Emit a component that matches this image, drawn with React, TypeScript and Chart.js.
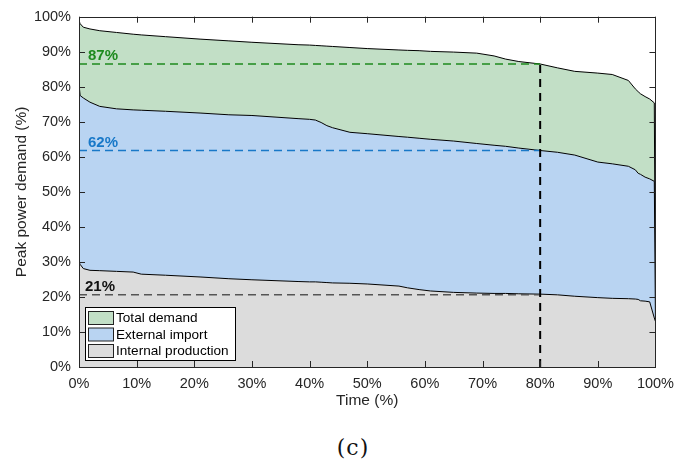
import React, { useEffect, useRef } from "react";
import { Chart, registerables } from "chart.js";

Chart.register(...registerables);

// Time (%) sample points shared by the three duration curves
const timePct = [0, 0.2, 0.75, 1.9, 3.6, 6.5, 9.4, 10.8, 15, 21, 26, 30, 38, 40, 41, 42, 43, 44, 47, 50, 55.5, 57, 59, 61, 65, 69, 72, 74, 76.3, 80, 83, 86, 90, 92.5, 95.3, 96.5, 97, 97.4, 98.2, 99, 99.8, 100];

// Total demand (top curve)
const totalDemand = [98.9, 98.0, 97.0, 96.5, 96.0, 95.5, 95.0, 94.8, 94.3, 93.6, 93.1, 92.7, 92.0, 91.9, 91.8, 91.7, 91.6, 91.5, 91.2, 90.9, 90.5, 90.4, 90.3, 90.1, 89.9, 89.6, 88.8, 87.9, 87.2, 86.5, 85.4, 84.4, 83.9, 83.5, 81.8, 79.4, 78.6, 78.0, 77.2, 76.5, 75.4, 13];

// Internal production + external import (middle curve)
const externalImportTop = [80.8, 77.5, 76.8, 75.6, 74.4, 73.7, 73.4, 73.3, 73.0, 72.5, 72.0, 71.8, 70.9, 70.7, 70.5, 69.8, 68.9, 68.3, 67.0, 66.6, 65.8, 65.6, 65.3, 65.0, 64.5, 63.8, 63.3, 63.0, 62.5, 61.8, 61.3, 60.5, 58.5, 58.0, 57.3, 56.3, 55.3, 55.0, 54.2, 53.7, 53.0, 13];

// Internal production (bottom curve)
const internalProduction = [30.0, 29.3, 28.1, 27.6, 27.5, 27.3, 27.1, 26.5, 26.2, 25.7, 25.2, 24.9, 24.4, 24.3, 24.3, 24.2, 24.1, 24.0, 23.9, 23.7, 23.1, 22.6, 22.1, 21.7, 21.3, 21.1, 21.0, 21.0, 20.9, 20.8, 20.6, 20.2, 19.8, 19.6, 19.5, 19.4, 19.3, 18.9, 18.8, 18.6, 14.0, 13];

// Reference levels read at the marked time
const markTime = 80;
const refLevels = [86.5, 61.8, 20.6];
const refLabels = ["87%", "62%", "21%"];

const legendLabels = ["Total demand", "External import", "Internal production"];
const xTicks = [0, 10, 20, 30, 40, 50, 60, 70, 80, 90, 100];
const yTicks = [0, 10, 20, 30, 40, 50, 60, 70, 80, 90, 100];

const GREEN_FILL = "#c2dfc6";
const BLUE_FILL = "#b9d4f2";
const GRAY_FILL = "#dcdcdc";
const refColors = ["#1e8a1e", "#1878c8", "#555555"];
const refTextColors = ["#1e8a1e", "#1878c8", "#111111"];
const AXIS = "#262626";
const FONT = "'Liberation Sans', Arial, sans-serif";

const toPts = (ys: number[]) => timePct.map((x, i) => ({ x, y: ys[i] }));

const overlayPlugin = {
  id: "overlay",
  afterDraw(chart: any) {
    const { ctx, chartArea, scales } = chart;
    const { left, right, top, bottom } = chartArea;
    const xs = scales.x;
    const ys = scales.y;
    ctx.save();
    // reference labels
    ctx.font = `bold 15px ${FONT}`;
    ctx.textAlign = "left";
    ctx.textBaseline = "middle";
    refLevels.forEach((v, i) => {
      ctx.fillStyle = refTextColors[i];
      ctx.fillText(refLabels[i], left + (i === 2 ? 6 : 9), ys.getPixelForValue(v) - 8);
    });
    // legend
    const lx = 85.5, ly = 307.5, lw = 150, lh = 53;
    ctx.fillStyle = "#ffffff";
    ctx.fillRect(lx, ly, lw, lh);
    ctx.strokeStyle = "#000000";
    ctx.lineWidth = 1;
    ctx.strokeRect(lx, ly, lw, lh);
    const fills = [GREEN_FILL, BLUE_FILL, GRAY_FILL];
    ctx.font = `13.6px ${FONT}`;
    legendLabels.forEach((lab, i) => {
      const ry = 311.5 + i * 16.5;
      ctx.fillStyle = fills[i];
      ctx.fillRect(88.5, ry, 25, 13);
      ctx.strokeStyle = "#222";
      ctx.strokeRect(88.5, ry, 25, 13);
      ctx.fillStyle = "#000";
      ctx.fillText(lab, 116, ry + 7);
    });
    // axes box and inward ticks
    ctx.strokeStyle = AXIS;
    ctx.lineWidth = 1;
    ctx.strokeRect(Math.round(left) + 0.5, Math.round(top) + 0.5, Math.round(right - left), Math.round(bottom - top));
    ctx.beginPath();
    xTicks.forEach((v) => {
      const px = Math.round(xs.getPixelForValue(v)) + 0.5;
      ctx.moveTo(px, bottom);
      ctx.lineTo(px, bottom - 6);
      ctx.moveTo(px, top);
      ctx.lineTo(px, top + 6);
    });
    yTicks.forEach((v) => {
      const py = Math.round(ys.getPixelForValue(v)) + 0.5;
      ctx.moveTo(left, py);
      ctx.lineTo(left + 6, py);
      ctx.moveTo(right, py);
      ctx.lineTo(right - 6, py);
    });
    ctx.stroke();
    ctx.restore();
  },
};

export default function App() {
  const ref = useRef<HTMLCanvasElement | null>(null);
  useEffect(() => {
    if (!ref.current) return;
    const areaBase = {
      borderColor: "#000000",
      borderWidth: 1,
      pointRadius: 0,
      tension: 0,
      order: 10,
    };
    const refSets = refLevels.map((v, i) => ({
      data: [
        { x: 0, y: v },
        { x: markTime, y: v },
      ],
      borderColor: refColors[i],
      borderWidth: 1.5,
      borderDash: [8, 5],
      pointRadius: 0,
      fill: false,
      order: 1,
    }));
    const chart = new Chart(ref.current, {
      type: "line",
      data: {
        datasets: [
          { ...areaBase, data: toPts(internalProduction), backgroundColor: GRAY_FILL, fill: "origin" },
          { ...areaBase, data: toPts(externalImportTop), backgroundColor: BLUE_FILL, fill: 0 },
          { ...areaBase, data: toPts(totalDemand), backgroundColor: GREEN_FILL, fill: 1 },
          ...refSets,
          {
            data: [
              { x: markTime, y: 0 },
              { x: markTime, y: refLevels[0] },
            ],
            borderColor: "#000000",
            borderWidth: 2,
            borderDash: [8, 6],
            pointRadius: 0,
            fill: false,
            order: 0,
          },
        ] as any,
      },
      options: {
        animation: false,
        responsive: false,
        devicePixelRatio: 1,
        layout: { padding: { left: 0, right: 25, top: 16, bottom: 0 } },
        plugins: { legend: { display: false }, tooltip: { enabled: false } },
        scales: {
          x: {
            type: "linear",
            min: 0,
            max: 100,
            grid: { display: false, drawTicks: false, tickLength: 0 },
            border: { display: false },
            afterBuildTicks: (s: any) => {
              s.ticks = xTicks.map((v) => ({ value: v }));
            },
            afterFit: (s: any) => {
              s.height = 43;
            },
            ticks: {
              autoSkip: false,
              maxRotation: 0,
              padding: 8,
              color: AXIS,
              font: { family: FONT, size: 14.5 },
              callback: (v: any) => `${v}%`,
            },
            title: {
              display: true,
              text: "Time (%)",
              color: AXIS,
              font: { family: FONT, size: 15.5 },
              padding: { top: 0, bottom: 0 },
            },
          },
          y: {
            type: "linear",
            min: 0,
            max: 100,
            grid: { display: false, drawTicks: false, tickLength: 0 },
            border: { display: false },
            afterBuildTicks: (s: any) => {
              s.ticks = yTicks.map((v) => ({ value: v }));
            },
            afterFit: (s: any) => {
              s.width = 79;
            },
            ticks: {
              autoSkip: false,
              padding: 8,
              color: AXIS,
              font: { family: FONT, size: 14.5 },
              callback: (v: any) => `${v}%`,
            },
            title: {
              display: true,
              text: "Peak power demand (%)",
              color: AXIS,
              font: { family: FONT, size: 15.5 },
              padding: { top: 12, bottom: 0 },
            },
          },
        },
      } as any,
      plugins: [overlayPlugin],
    });
    return () => chart.destroy();
  }, []);

  return (
    <div style={{ position: "fixed", left: 0, top: 0, width: 682, height: 466, background: "#fff" }}>
      <canvas ref={ref} width={682} height={410} style={{ display: "block" }} />
      <div
        style={{
          position: "absolute",
          left: 353,
          top: 436,
          transform: "translateX(-50%)",
          fontFamily: "'DejaVu Serif', serif",
          fontSize: 22,
          lineHeight: "24px",
          color: "#111",
          letterSpacing: 1,
        }}
      >
        (c)
      </div>
    </div>
  );
}
